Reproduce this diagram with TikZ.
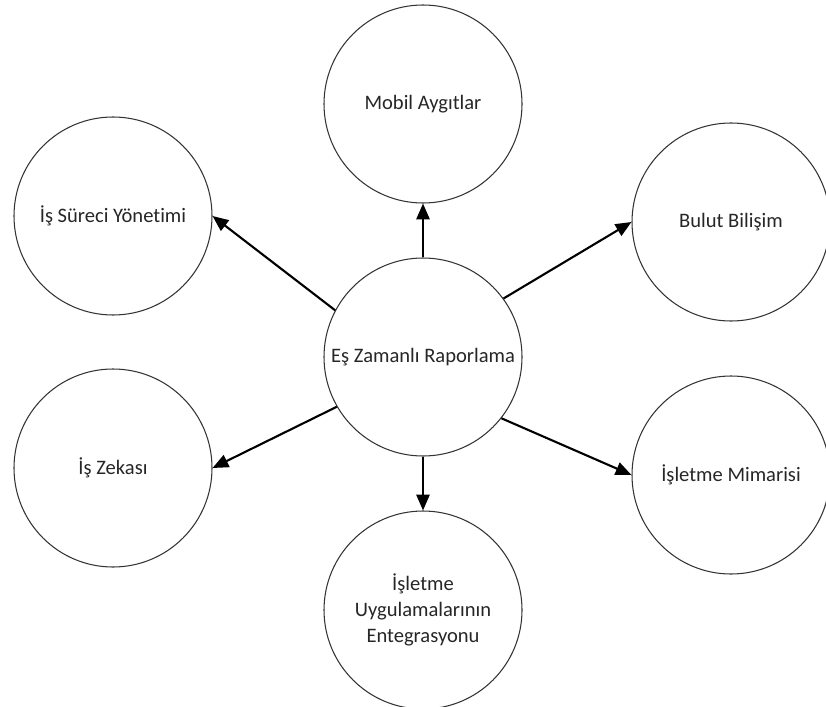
\documentclass[tikz,border=0pt]{standalone}
\usepackage{fontspec}
\setmainfont{Carlito}[Ligatures=NoCommon]
\usetikzlibrary{arrows.meta}
\begin{document}
\begin{tikzpicture}[
        bubble/.style={draw=black!80, line width=0.6pt, circle, minimum size=3.96cm,
            inner sep=0pt, align=center, font=\fontsize{11.7}{15}\selectfont, text=black!85},
        link/.style={line width=1.2pt, -{Triangle[length=9pt, width=7.5pt]}}
    ]
            \useasboundingbox (0, 0) rectangle (16.52, -14.12);
            \node[bubble] (rapor) at (8.46, -7.14) {Eş Zamanlı Raporlama};
            \node[bubble] (mobil) at (8.46, -2.08) {Mobil Aygıtlar};
            \node[bubble] (surec) at (2.26, -4.32) {İş Süreci Yönetimi};
            \node[bubble] (bulut) at (14.62, -4.44) {Bulut Bilişim};
            \node[bubble] (zeka) at (2.26, -9.36) {İş Zekası};
            \node[bubble] (mimari) at (14.62, -9.5) {İşletme Mimarisi};
            \node[bubble] (entegre) at (8.46, -12.2) {İşletme\\Uygulamalarının\\Entegrasyonu};
            \draw[link] (rapor.north) -- (mobil.south);
            \draw[link] (rapor.152) -- (surec.east);
            \draw[link] (rapor.36) -- (bulut.west);
            \draw[link] (rapor.210) -- (zeka.east);
            \draw[link] (rapor.322) -- (mimari.west);
            \draw[link] (rapor.south) -- (entegre.north);
        \end{tikzpicture}
\end{document}
